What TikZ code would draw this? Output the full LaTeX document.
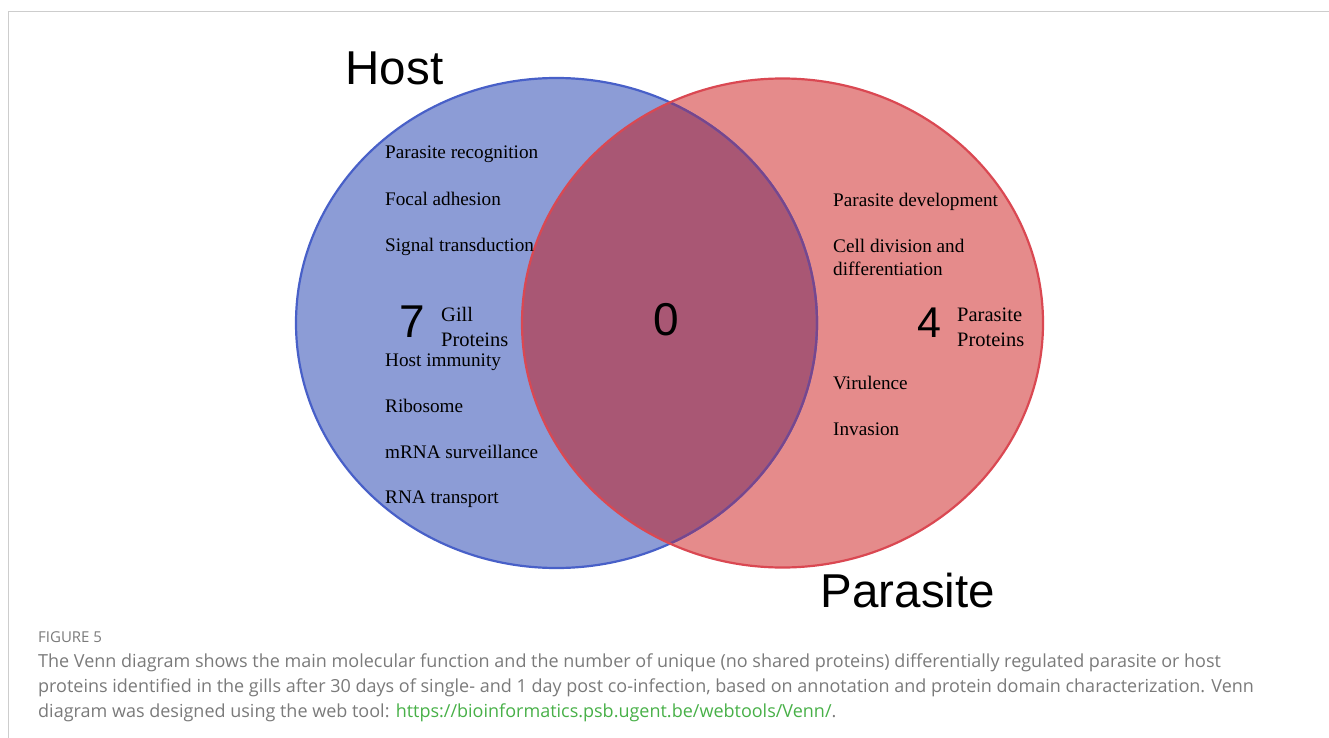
\documentclass[tikz,border=0pt]{standalone}
\usepackage{fontspec}
\setmainfont{Liberation Serif}
\newfontfamily\arialf{Liberation Sans}
\newfontfamily\capf{Open Sans}
\definecolor{blueFill}{RGB}{140,156,214}
\definecolor{blueLine}{RGB}{72,96,200}
\definecolor{redFill}{RGB}{229,139,139}
\definecolor{redLine}{RGB}{218,72,82}
\definecolor{overFill}{RGB}{169,87,116}
\definecolor{purpleLine}{RGB}{120,70,140}
\definecolor{capGrey}{RGB}{122,122,122}
\definecolor{linkGreen}{RGB}{72,176,72}
\definecolor{frameGrey}{RGB}{205,205,205}
\tikzset{
  lbl/.style={anchor=base west, inner sep=0pt, font=\fontsize{19.2}{23}\selectfont},
  sublbl/.style={anchor=base west, inner sep=0pt, font=\fontsize{20.5}{24}\selectfont},
  big/.style={anchor=base, inner sep=0pt, font=\arialf\fontsize{47.5}{56}\selectfont},
  num/.style={anchor=base, inner sep=0pt, font=\arialf\fontsize{46}{54}\selectfont},
  captext/.style={anchor=base west, inner sep=0pt, text=capGrey, font=\capf\fontsize{18}{22}\selectfont},
}
\begin{document}
\begin{tikzpicture}[x=1pt,y=-1pt]
\useasboundingbox (0,0) rectangle (1329,738);
% frame
\draw[frameGrey, line width=1pt] (8,738) -- (8,12) -- (1329,12);
% ellipses
\def\hostell{(556.5,323) ellipse [x radius=260.5pt, y radius=245pt]}
\def\parell{(782.5,323) ellipse [x radius=260.5pt, y radius=244.5pt]}
\fill[blueFill] \hostell;
\fill[redFill] \parell;
\begin{scope}
  \clip \hostell;
  \fill[overFill] \parell;
\end{scope}
\draw[blueLine, line width=2.2pt] \hostell;
\begin{scope}
  \clip \parell;
  \draw[purpleLine, line width=2.2pt] \hostell;
\end{scope}
\draw[redLine, line width=2.2pt] \parell;
% titles
\node[big] (host) at (394.5,85) {Host};
\node[big] (parasite) at (908,607) {Parasite};
% numbers
\node[num] (n7) at (412,337) {7};
\node[num] (n0) at (666,335) {0};
\node[num, font=\arialf\fontsize{43}{50}\selectfont] (n4) at (929,337) {4};
% host labels
\node[lbl] (h1) at (385,159) {Parasite recognition};
\node[lbl] (h2) at (385,205) {Focal adhesion};
\node[lbl] (h3) at (385,251) {Signal transduction};
\node[sublbl] (gill) at (441,321) {Gill};
\node[sublbl] (gillp) at (441,346) {Proteins};
\node[lbl] (h4) at (385,366) {Host immunity};
\node[lbl] (h5) at (385,412) {Ribosome};
\node[lbl] (h6) at (385,458) {mRNA surveillance};
\node[lbl] (h7) at (385,503) {RNA transport};
% parasite labels
\node[lbl] (p1) at (833,206) {Parasite development};
\node[lbl] (p2) at (833,252) {Cell division and};
\node[lbl] (p2b) at (833,275) {differentiation};
\node[sublbl] (par) at (957,321) {Parasite};
\node[sublbl] (parp) at (957,346) {Proteins};
\node[lbl] (p3) at (833,389) {Virulence};
\node[lbl] (p4) at (833,435) {Invasion};
% caption
\node[captext, font=\capf\fontsize{15}{18}\selectfont] (fig) at (38,642) {FIGURE 5};
\node[captext] (c1) at (38,667) {The Venn diagram shows the main molecular function and the number of unique (no shared proteins) differentially regulated parasite or host};
\node[captext] (c2) at (38,692) {proteins identified in the gills after 30 days of single- and 1 day post co-infection, based on annotation and protein domain characterization. Venn};
\node[captext] (c3) at (38,717) {diagram was designed using the web tool: \textcolor{linkGreen}{https://bioinformatics.psb.ugent.be/webtools/Venn/}.};
\end{tikzpicture}
\end{document}
